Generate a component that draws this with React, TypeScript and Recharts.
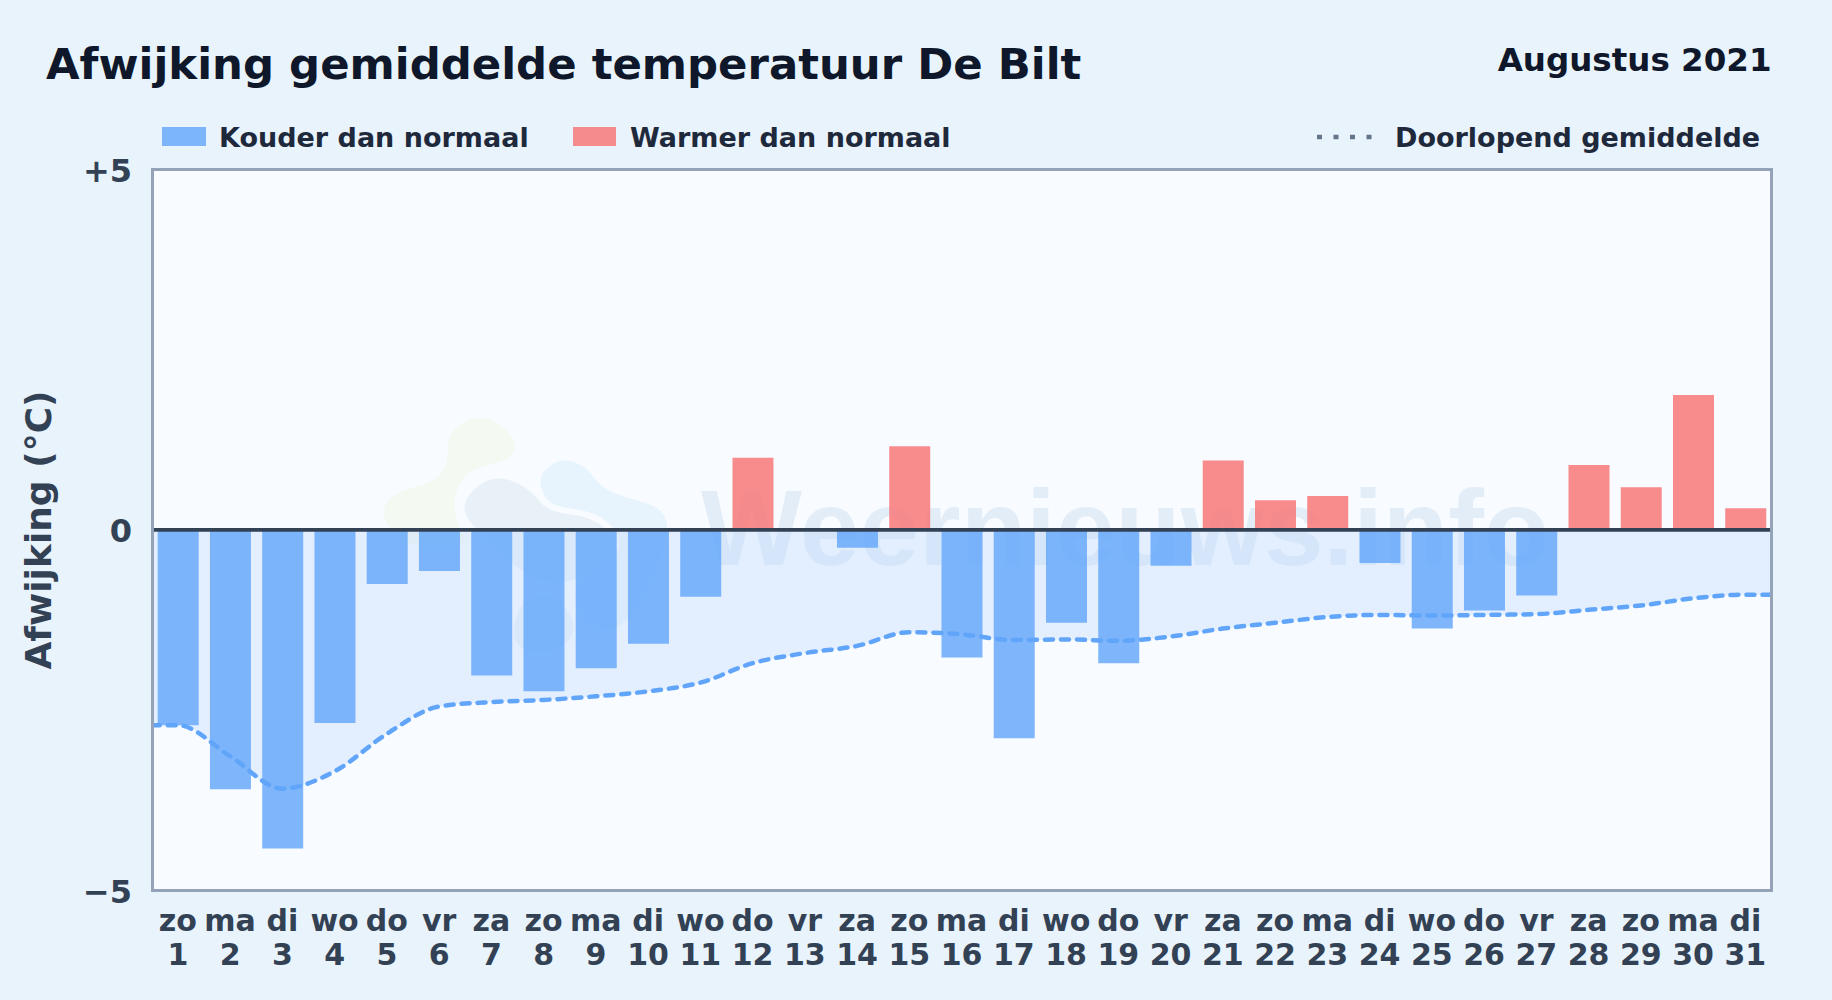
import React from "react";
import { ComposedChart, Bar, Line, Area, Cell, XAxis, YAxis, ReferenceLine } from "recharts";

const dayNames = ["zo","ma","di","wo","do","vr","za","zo","ma","di","wo","do","vr","za","zo","ma","di","wo","do","vr","za","zo","ma","di","wo","do","vr","za","zo","ma","di"];
const deviation = [-2.71,-3.6,-4.42,-2.68,-0.75,-0.57,-2.02,-2.24,-1.92,-1.58,-0.93,1.0,0,-0.25,1.16,-1.77,-2.89,-1.29,-1.85,-0.5,0.96,0.41,0.47,-0.46,-1.37,-1.12,-0.91,0.9,0.59,1.87,0.3];
const runningMean = [-2.71,-3.14,-3.59,-3.35,-2.83,-2.45,-2.39,-2.36,-2.31,-2.24,-2.12,-1.85,-1.71,-1.61,-1.42,-1.45,-1.53,-1.52,-1.54,-1.48,-1.37,-1.29,-1.21,-1.18,-1.19,-1.18,-1.17,-1.11,-1.05,-0.95,-0.9];
const yTicks = [-5, 0, 5];
const yTickLabels: Record<number, string> = { [-5]: "−5", 0: "0", 5: "+5" };
const title = "Afwijking gemiddelde temperatuur De Bilt";
const period = "Augustus 2021";
const yTitle = "Afwijking (°C)";
const legendCold = "Kouder dan normaal";
const legendWarm = "Warmer dan normaal";
const legendMean = "Doorlopend gemiddelde";
const watermark = "Weernieuws.info";

const FONT = '"DejaVu Sans", sans-serif';
const COLD = "#60a5fa";
const WARM = "#f87171";
const L = 152.7, T = 169.3, R = 1771.5, B = 890.3, PL = 151.7;

const rows = deviation.map((value, i) => ({ x: i + 1, value }));
const meanRows = [
  { x: 0.5, mean: runningMean[0] },
  ...runningMean.map((mean, i) => ({ x: i + 1, mean })),
  { x: 31.5, mean: runningMean[30] },
];
const dayTicks = deviation.map((_, i) => i + 1);

const blobGreen = [[380,513],[393,493],[433,482],[448,467],[448,430],[483,413],[517,437],[513,460],[470,468],[452,497],[457,523],[470,550],[400,545]];
const blobGrey = [[461,500],[493,474],[530,488],[547,512],[593,517],[618,540],[613,560],[547,593],[470,527]];
const blobLow = [[512,633],[520,603],[547,593],[573,613],[573,640],[547,653],[520,650]];
const blobBlue = [[537,477],[560,457],[587,467],[600,487],[627,498],[660,507],[670,528],[660,560],[627,627],[593,630],[570,597],[590,567],[618,557],[620,533],[597,513],[567,508],[547,503]];
const smooth = (pts: number[][]) => {
  const mid = (a: number[], b: number[]) => [(a[0] + b[0]) / 2, (a[1] + b[1]) / 2];
  const n = pts.length;
  const s = mid(pts[n - 1], pts[0]);
  let d = `M ${s[0]} ${s[1]}`;
  pts.forEach((p, i) => {
    const m = mid(p, pts[(i + 1) % n]);
    d += ` Q ${p[0]} ${p[1]} ${m[0]} ${m[1]}`;
  });
  return d + " Z";
};

const XTick = (p: any) => (
  <text x={p.x} textAnchor="middle" fontFamily={FONT} fontWeight={700} fontSize={30} fill="#334155">
    <tspan x={p.x} y={931}>{dayNames[p.payload.value - 1]}</tspan>
    <tspan x={p.x} y={965}>{p.payload.value}</tspan>
  </text>
);
const YTick = (p: any) => (
  <text x={132} y={p.y + 12.5} textAnchor="end" fontFamily={FONT} fontWeight={700} fontSize={32} fill="#334155">
    {yTickLabels[p.payload.value]}
  </text>
);
const abs = (s: React.CSSProperties): React.CSSProperties => ({ position: "absolute", whiteSpace: "nowrap", ...s });

export default function App() {
  return (
    <div style={abs({ left: 0, top: 0, width: 1832, height: 1000, overflow: "hidden", background: "#e8f3fc", fontFamily: FONT, fontWeight: 700 })}>
      <div style={abs({ left: L, top: T, width: R - L, height: B - T, background: "#f8fbff" })} />
      <svg style={abs({ left: 0, top: 0 })} width={1832} height={1000}>
        <path d={smooth(blobGreen)} fill="#f4f9f1" />
        <path d={smooth(blobBlue)} fill="#e8f4fd" />
        <path d={smooth(blobGrey)} fill="#e8f0f8" />
        <path d={smooth(blobLow)} fill="#e8f0f8" />
        <text x={701} y={565} fontFamily='"Liberation Sans", sans-serif' fontWeight={700} fontSize={107} fill="#1e6ab0" opacity={0.09}>{watermark}</text>
      </svg>
      <div style={abs({ left: 46, top: 39, fontSize: 43.4, color: "#0f172a" })}>{title}</div>
      <div style={abs({ right: 60.5, top: 41, fontSize: 32.5, color: "#0f172a" })}>{period}</div>
      <div style={abs({ left: 162, top: 127, width: 44, height: 19, background: COLD, opacity: 0.8 })} />
      <div style={abs({ left: 219, top: 121.5, fontSize: 27, color: "#1e293b" })}>{legendCold}</div>
      <div style={abs({ left: 573, top: 127, width: 43, height: 19, background: WARM, opacity: 0.8 })} />
      <div style={abs({ left: 630, top: 121.5, fontSize: 27, color: "#1e293b" })}>{legendWarm}</div>
      <svg style={abs({ left: 1310, top: 125 })} width={70} height={24}>
        <line x1={7} x2={65} y1={12} y2={12} stroke="#64748b" strokeWidth={4.5} strokeDasharray="5 11.5" />
      </svg>
      <div style={abs({ left: 1395, top: 121.5, fontSize: 27, color: "#1e293b" })}>{legendMean}</div>
      <div style={abs({ left: 0, top: 0 })}>
        <ComposedChart width={1832} height={1000} data={rows} margin={{ top: T, right: 1832 - R, bottom: 0, left: 0 }}>
          <XAxis dataKey="x" type="number" domain={[0.5, 31.5]} ticks={dayTicks} interval={0} allowDataOverflow height={1000 - B} axisLine={false} tickLine={false} tick={XTick} />
          <XAxis xAxisId="edge" dataKey="x" type="number" domain={[0.5, 31.5]} allowDataOverflow hide />
          <YAxis type="number" domain={[-5, 5]} allowDataOverflow ticks={yTicks} interval={0} width={PL} axisLine={false} tickLine={false} tick={YTick}
            label={{ content: () => (
              <text transform="translate(38,530) rotate(-90)" textAnchor="middle" dominantBaseline="central" fontFamily={FONT} fontWeight={700} fontSize={36} fill="#334155">{yTitle}</text>
            ) }} />
          <Area xAxisId="edge" data={meanRows} dataKey="mean" type="monotone" baseValue={0} stroke="none" fill="#bfdbfe" fillOpacity={0.38} isAnimationActive={false} dot={false} activeDot={false} />
          <Bar dataKey="value" barSize={41} isAnimationActive={false} fillOpacity={0.8}>
            {rows.map((r, i) => (
              <Cell key={i} fill={r.value < 0 ? COLD : WARM} />
            ))}
          </Bar>
          <Line xAxisId="edge" data={meanRows} dataKey="mean" type="monotone" stroke={COLD} strokeWidth={4.5} strokeDasharray="8 8" strokeLinecap="round" dot={false} activeDot={false} isAnimationActive={false} />
          <ReferenceLine y={0} stroke="#334155" strokeWidth={3.8} />
        </ComposedChart>
      </div>
      <div style={abs({ left: L - 1.5, top: T - 1.5, width: R - L + 3, height: B - T + 3, boxSizing: "border-box", border: "3px solid #94a3b8", pointerEvents: "none" })} />
    </div>
  );
}
